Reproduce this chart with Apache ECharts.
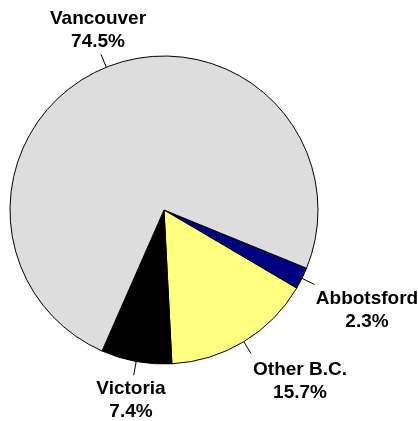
<!DOCTYPE html>
<html>
<head>
<meta charset="utf-8">
<script src="https://cdn.jsdelivr.net/npm/echarts@6/dist/echarts.min.js"></script>
<style>
html,body{margin:0;padding:0;background:#fff;}
#chart{width:418px;height:421px;}
</style>
</head>
<body>
<div id="chart"></div>
<script>
var categories = ['Abbotsford', 'Other B.C.', 'Victoria', 'Vancouver'];
var shares = [2.3, 15.7, 7.4, 74.5];
var sliceColors = ['#000080', '#FFFF80', '#000000', '#DDDDDD'];
var labelPos = [[367, 310], [300, 381], [131, 400], [98, 30]];

var chart = echarts.init(document.getElementById('chart'), null, {renderer: 'canvas'});
var data = categories.map(function (c, i) {
  return {name: c, value: shares[i], itemStyle: {color: sliceColors[i]}};
});
chart.setOption({
  animation: false,
  backgroundColor: '#ffffff',
  series: [{
    type: 'pie',
    center: [164, 210],
    radius: 154,
    startAngle: -22.2,
    clockwise: true,
    avoidLabelOverlap: false,
    data: data,
    itemStyle: {borderColor: '#000', borderWidth: 1},
    emphasis: {disabled: true},
    label: {
      show: true,
      position: 'outside',
      formatter: '{b}\n{c}%',
      fontFamily: 'Liberation Sans, Arial, sans-serif',
      fontWeight: 'bold',
      fontSize: 19,
      lineHeight: 23,
      color: '#000',
      align: 'center'
    },
    labelLine: {show: true, length: 14, length2: 0, lineStyle: {color: '#000', width: 1}},
    labelLayout: function (p) {
      var pts = p.labelLinePoints;
      var res = {x: labelPos[p.dataIndex][0], y: labelPos[p.dataIndex][1], align: 'center', verticalAlign: 'middle', hideOverlap: false, moveOverlap: false};
      if (pts && pts.length >= 2) {
        var dx = pts[1][0] - pts[0][0], dy = pts[1][1] - pts[0][1];
        var l = Math.sqrt(dx * dx + dy * dy) || 1;
        res.labelLinePoints = [[pts[0][0], pts[0][1]], [pts[0][0] + dx / l * 14, pts[0][1] + dy / l * 14], [pts[0][0] + dx / l * 14, pts[0][1] + dy / l * 14]];
      }
      return res;
    }
  }]
});
</script>
</body>
</html>
